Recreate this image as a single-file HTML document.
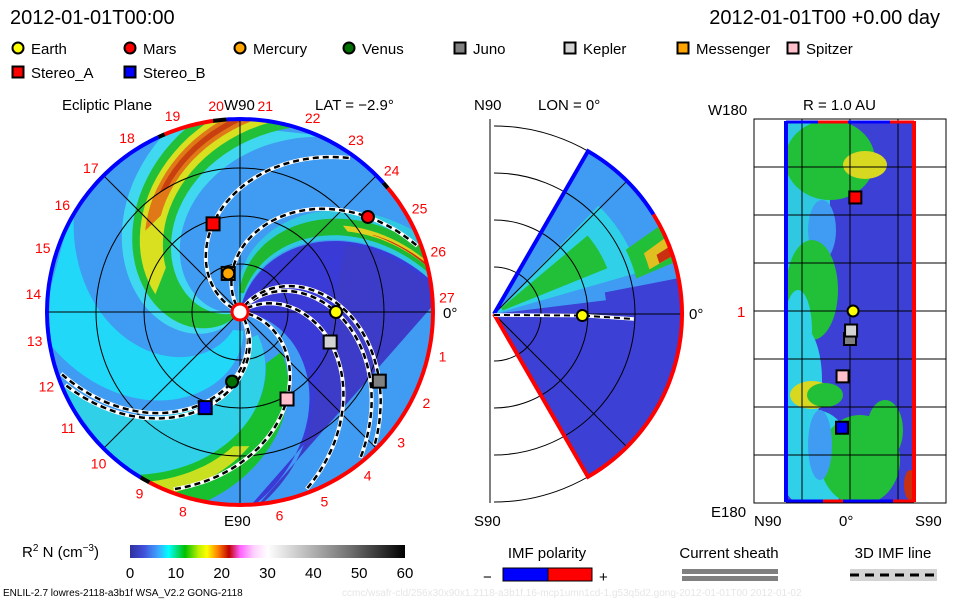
<!DOCTYPE html>
<html><head><meta charset="utf-8">
<style>
html,body{margin:0;padding:0;background:#fff;}
svg{display:block;font-family:"Liberation Sans",sans-serif;}
</style></head>
<body>
<svg id="root" width="960" height="600" viewBox="0 0 960 600" xmlns="http://www.w3.org/2000/svg">
<defs>
<clipPath id="diskClip"><circle cx="240" cy="312" r="193"/></clipPath>
<clipPath id="wedgeClip"><path d="M494,314 L588,151 A188,188 0 0 1 588,477 Z"/></clipPath>
<clipPath id="rectClip"><rect x="786" y="122" width="129" height="379"/></clipPath>
<linearGradient id="cbar" x1="0" x2="1" y1="0" y2="0">
<stop offset="0" stop-color="#3030a0"/><stop offset="0.05" stop-color="#4050d8"/><stop offset="0.1" stop-color="#40a0ff"/>
<stop offset="0.14" stop-color="#00ffff"/><stop offset="0.2" stop-color="#00c000"/><stop offset="0.25" stop-color="#c0f000"/>
<stop offset="0.28" stop-color="#ffff00"/><stop offset="0.32" stop-color="#ff8000"/><stop offset="0.36" stop-color="#c00000"/>
<stop offset="0.4" stop-color="#ff60ff"/><stop offset="0.45" stop-color="#ffd0ff"/><stop offset="0.5" stop-color="#ffffff"/>
<stop offset="0.6" stop-color="#d0d0d0"/><stop offset="0.8" stop-color="#707070"/><stop offset="1" stop-color="#000000"/>
</linearGradient>
</defs>

<text x="10" y="24" font-size="20" fill="#000">2012-01-01T00:00</text>
<text x="940" y="24" font-size="20" text-anchor="end" fill="#000">2012-01-01T00 +0.00 day</text>

<g id="legend" font-size="15"></g>

<g>
<text x="62" y="110" font-size="15">Ecliptic Plane</text>
<text x="315" y="110" font-size="15">LAT = −2.9°</text>
<text x="224" y="526" font-size="15">E90</text>
<text x="443" y="318" font-size="15">0°</text>
<g id="disk" clip-path="url(#diskClip)"></g>
<g id="diskOver"></g>
<g id="rimNums" font-size="14" fill="#ff0000" text-anchor="middle"></g>
<text x="224" y="110" font-size="15">W90</text>
</g>

<g>
<text x="474" y="110" font-size="15">N90</text>
<text x="538" y="110" font-size="15">LON = 0°</text>
<text x="689" y="319" font-size="15">0°</text>
<text x="474" y="526" font-size="15">S90</text>
<g id="wedge"></g>
</g>

<g>
<text x="803" y="110" font-size="15">R = 1.0 AU</text>
<text x="708" y="115" font-size="15">W180</text>
<text x="737" y="317" font-size="15" fill="#ff0000">1</text>
<text x="711" y="517" font-size="15">E180</text>
<text x="754" y="526" font-size="15">N90</text>
<text x="839" y="526" font-size="15">0°</text>
<text x="915" y="526" font-size="15">S90</text>
<g id="rect"></g>
</g>

<g>
<text x="22" y="557" font-size="15">R<tspan font-size="10" dy="-6">2</tspan><tspan dy="6"> N (cm</tspan><tspan font-size="10" dy="-6">−3</tspan><tspan dy="6">)</tspan></text>
<rect x="130" y="545" width="275" height="13" fill="url(#cbar)"/>
<g id="cbticks" font-size="15" text-anchor="middle"></g>
</g>

<g>
<text x="547" y="558" font-size="15" text-anchor="middle">IMF polarity</text>
<text x="483" y="582" font-size="15">−</text>
<rect x="503" y="568" width="45" height="13" fill="#0000ff" stroke="#000" stroke-width="1"/>
<rect x="548" y="568" width="44" height="13" fill="#ff0000" stroke="#000" stroke-width="1"/>
<text x="599" y="582" font-size="15">+</text>
</g>
<g>
<text x="729" y="558" font-size="15" text-anchor="middle">Current sheath</text>
<rect x="682" y="569" width="96" height="5" fill="#808080"/>
<rect x="682" y="576" width="96" height="5" fill="#808080"/>
</g>
<g>
<text x="893" y="558" font-size="15" text-anchor="middle">3D IMF line</text>
<rect x="850" y="569" width="87" height="12" fill="#d3d3d3"/>
<line x1="850" y1="575" x2="937" y2="575" stroke="#000" stroke-width="3" stroke-dasharray="9 6"/>
</g>
<text x="3" y="596" font-size="10">ENLIL-2.7 lowres-2118-a3b1f WSA_V2.2 GONG-2118</text>
<text x="342" y="596" font-size="10" fill="#e6e6e6">ccmc/wsafr-cld/256x30x90x1.2118-a3b1f.16-mcp1umn1cd-1.g53q5d2.gong-2012-01-01T00   2012-01-02</text>
</svg>

<script>
// ---------- data ----------
const bodyNames   = ["Earth","Mars","Mercury","Venus","Juno","Kepler","Messenger","Spitzer","Stereo_A","Stereo_B"];
const bodyColors  = ["#ffff00","#ff0000","#ffa500","#007000","#808080","#d3d3d3","#ffa500","#ffc0cb","#ff0000","#0000ff"];
const bodyShapes  = ["circle","circle","circle","circle","square","square","square","square","square","square"];
const bodyRadiusAU = [1.0, 1.66, 0.42, 0.73, 1.62, 0.99, 0.42, 1.03, 0.96, 1.06];
const bodyLonDeg   = [0, 36.6, 107, -96.5, -26.4, -18.4, 107, -61.6, 107, -110];
// latitude on the 1 AU map, degrees south positive (null = not shown)
const bodyMapLatS = [2.9, null, null, null, 0, 1, null, -7, 5, -7.5];
const spiralBodies = ["Earth","Mars","Venus","Juno","Kepler","Spitzer","Stereo_A","Stereo_B"];
const rimNumbers = ["19","20","21","22","23","24","25","26","27","1","2","3","4","5","6","8","9","10","11","12","13","14","15","16","17","18"];
const rimAngles  = [109,96.6,83,69.5,56,43,30,17,4,-12.4,-26,-39,-52,-66,-79,-106,-119,-133,-146,-159,-172,175,162,149,136,123];
const cbTicks = [0,10,20,30,40,50,60];

// ---------- helpers ----------
const NS="http://www.w3.org/2000/svg";
function mk(tag, attrs, parent){const e=document.createElementNS(NS,tag);for(const k in attrs)e.setAttribute(k,attrs[k]);parent.appendChild(e);return e;}
const CX=240, CY=312, S=96, K=52;
function pt(r,deg){const a=deg*Math.PI/180;return [CX+S*r*Math.cos(a), CY-S*r*Math.sin(a)];}
function band(fa, fb, r0, r1){
  let p=[];for(let r=r0;r<=r1+1e-6;r+=0.05)p.push(pt(r,fa(r)));
  for(let r=r1;r>=r0-1e-6;r-=0.05)p.push(pt(r,fb(r)));
  return p.map(q=>q[0].toFixed(1)+","+q[1].toFixed(1)).join(" ");
}

// ---------- legend ----------
const legend=document.getElementById("legend");
const legX=[18,130,240,349,460,570,683,793,18,130];
const legY=[48,48,48,48,48,48,48,48,72,72];
bodyNames.forEach((n,i)=>{
  let m;
  if(bodyShapes[i]==="circle") m=mk("circle",{cx:legX[i],cy:legY[i],r:5.5,fill:bodyColors[i],stroke:"#000","stroke-width":2},legend);
  else m=mk("rect",{x:legX[i]-5.5,y:legY[i]-5.5,width:11,height:11,fill:bodyColors[i],stroke:"#000","stroke-width":2},legend);
  
  
  const t=mk("text",{x:legX[i]+13,y:legY[i]+6},legend);t.textContent=n;
  
  
});

// ---------- left disk ----------
const disk=document.getElementById("disk");
mk("rect",{x:40,y:110,width:400,height:410,fill:"#3f9cf2"},disk);
const fields=[
 [r=>-70-50*r, r=>-100-55*r, 0.2, 2.1, "#22d8f8"],
 [r=>-40-40*r, r=>-62-48*r, 0.3, 2.1, "#30d0e8"],
 [r=>-20-40*r, r=>-38-42*r, 0.6, 2.1, "#18c030"],
 [r=>-30-40*r, r=>-34-42*r, 1.4, 2.1, "#c8e020"],
 [r=>80-35*r, r=>-5-40*r, 0.05, 2.1, "#3a3ad6"],
 [r=>78-35*r, r=>-3-40*r, 1.3, 2.1, "#3c3cc8"],
 [r=>238-62*r, r=>190-62*r, 0.05, 2.1, "#40d8f0"],
 [r=>230-62*r, r=>198-62*r, 0.1, 2.1, "#22c038"],
 [r=>224-62*r, r=>205-62*r, 0.9, 2.1, "#d8e020"],
 [r=>220-62*r, r=>210-62*r, 1.3, 2.1, "#e07818"],
 [r=>217-62*r, r=>213-62*r, 1.5, 2.1, "#c84010"],
 [r=>105-40*r, r=>82-36*r, 0.1, 2.1, "#30c8e0"],
 [r=>100-40*r, r=>86-37*r, 0.2, 2.1, "#20b830"],
 [r=>96-40*r, r=>90-38*r, 1.4, 2.1, "#e0d020"],
 [r=>94-40*r, r=>91-38*r, 1.6, 2.1, "#c83010"]
];
fields.forEach((f,i)=>{
  const p=mk("polygon",{points:band(f[0],f[1],f[2],f[3]),fill:f[4]},disk);
  
  
});
const over=document.getElementById("diskOver");
[0.5,1,1.5,2].forEach(r=>{const c=mk("circle",{cx:CX,cy:CY,r:S*r,fill:"none",stroke:"#000","stroke-width":1},over);
  });
[0,45,90,135].forEach(a=>{const p1=pt(2.01,a),p2=pt(2.01,a+180);
  const l=mk("line",{x1:p1[0],y1:p1[1],x2:p2[0],y2:p2[1],stroke:"#000","stroke-width":1},over);
  });
spiralBodies.forEach(n=>{
  const i=bodyNames.indexOf(n);const rb=bodyRadiusAU[i], fb=bodyLonDeg[i];
  let d="";for(let r=0.08;r<=2.0;r+=0.03){const q=pt(r,fb+K*(rb-r));d+=(d?"L":"M")+q[0].toFixed(1)+","+q[1].toFixed(1);}
  mk("path",{d:d,fill:"none",stroke:"#fff","stroke-width":4},over);
  const s=mk("path",{d:d,fill:"none",stroke:"#000","stroke-width":2.5,"stroke-dasharray":"6 4"},over);
  
  
});
// rim polarity (clockwise from a0 down to a1)
function rimArc(a0,a1,col){let d="";for(let a=a0;a>=a1;a-=1){const q=pt(2.01,a);d+=(d?"L":"M")+q[0].toFixed(1)+","+q[1].toFixed(1);}
  const e=mk("path",{d:d,fill:"none",stroke:col,"stroke-width":4},over);
  }
rimArc(94,42,"#0000ff");rimArc(40,-118,"#ff0000");rimArc(-121,-245,"#0000ff");rimArc(113,98,"#ff0000");
rimArc(42,40,"#000");rimArc(-118,-121,"#000");rimArc(115,113,"#000");rimArc(98,94,"#000");
mk("circle",{cx:CX,cy:CY,r:8,fill:"#fff",stroke:"#ff0000","stroke-width":3},over);
const order=[6,0,1,2,3,4,5,7,8,9];
order.forEach(i=>{
  const q=pt(bodyRadiusAU[i],bodyLonDeg[i]);let m;
  if(bodyShapes[i]==="circle") m=mk("circle",{cx:q[0],cy:q[1],r:6,fill:bodyColors[i],stroke:"#000","stroke-width":2},over);
  else m=mk("rect",{x:q[0]-6.5,y:q[1]-6.5,width:13,height:13,fill:bodyColors[i],stroke:"#000","stroke-width":2},over);
  
  
});
const rn=document.getElementById("rimNums");
rimNumbers.forEach((s,i)=>{const q=pt(2.16,rimAngles[i]);const t=mk("text",{x:q[0],y:q[1]+5},rn);t.textContent=s;
  });

// ---------- middle wedge ----------
const W=document.getElementById("wedge");const WX=494,WY=314,WR=188;
function wp(r,deg){const a=deg*Math.PI/180;return [WX+WR*r*Math.cos(a),WY-WR*r*Math.sin(a)];}
[0.25,0.5,0.75,1].forEach(r=>{const e=mk("path",{d:`M${WX},${WY-WR*r} A${WR*r},${WR*r} 0 0 1 ${WX},${WY+WR*r}`,fill:"none",stroke:"#000","stroke-width":1},W);
  });
mk("line",{x1:490,y1:119,x2:490,y2:503,stroke:"#000","stroke-width":1},W);
const wg=mk("g",{"clip-path":"url(#wedgeClip)"},W);
mk("rect",{x:480,y:110,width:220,height:400,fill:"#3c40d4"},wg);
function wpoly(a0,a1,r0,r1,col){let p=[];for(let a=a0;a<=a1;a+=3)p.push(wp(r0,a));for(let a=a1;a>=a0;a-=3)p.push(wp(r1,a));
  const e=mk("polygon",{points:p.map(q=>q.join(",")).join(" "),fill:col},wg);}
wpoly(10,62,0,1.05,"#3f9cf2");
wpoly(5,22,0,0.6,"#3f9cf2");
wpoly(14,46,0,0.8,"#30d0e8");
wpoly(22,40,0.05,0.65,"#22c038");
wpoly(14,28,0.78,1.0,"#22c038");
wpoly(16,24,0.86,1.0,"#e0c020");
wpoly(17,21,0.92,1.0,"#c83010");
[45,-45].forEach(a=>{const q=wp(1,a);mk("line",{x1:WX,y1:WY,x2:q[0],y2:q[1],stroke:"#000","stroke-width":1},wg);});
[0.25,0.5,0.75].forEach(r=>mk("circle",{cx:WX,cy:WY,r:WR*r,fill:"none",stroke:"#000","stroke-width":1},wg));
mk("line",{x1:WX,y1:WY,x2:WX+WR,y2:WY,stroke:"#000","stroke-width":1},W);
mk("path",{d:`M${WX},${WY} L${wp(1,60).join(",")} A${WR},${WR} 0 0 1 ${wp(1,32).join(",")}`,fill:"none",stroke:"#0000ff","stroke-width":4},W);
mk("path",{d:`M${wp(1,32).join(",")} A${WR},${WR} 0 0 1 ${wp(1,-60).join(",")} L${WX},${WY}`,fill:"none",stroke:"#ff0000","stroke-width":4},W);
const eq=wp(bodyRadiusAU[0]*0.47,-1);
mk("path",{d:`M${WX},${WY+1} L${eq[0]},${eq[1]} L${WX+140},${WY+5}`,fill:"none",stroke:"#fff","stroke-width":3.5},W);
mk("path",{d:`M${WX},${WY+1} L${eq[0]},${eq[1]} L${WX+140},${WY+5}`,fill:"none",stroke:"#000","stroke-width":2,"stroke-dasharray":"6 4"},W);
const ec=mk("circle",{cx:eq[0],cy:eq[1],r:5.5,fill:"#ffff00",stroke:"#000","stroke-width":2},W);



// ---------- right sphere map ----------
const R=document.getElementById("rect");
mk("rect",{x:754,y:119,width:192,height:384,fill:"none",stroke:"#000","stroke-width":1},R);
const rg=mk("g",{"clip-path":"url(#rectClip)"},R);
mk("rect",{x:780,y:115,width:140,height:395,fill:"#3c40d4"},rg);
const blobs=[[800,200,30,90,"#30c8e0"],[830,160,45,40,"#22c038"],[865,165,22,14,"#d8d820"],[822,230,14,30,"#3f9cf2"],
 [812,290,26,50,"#22c038"],[798,330,14,40,"#30d0e8"],[800,380,22,55,"#30d0e8"],[812,395,22,14,"#d8d820"],[825,395,18,12,"#22c038"],
 [815,460,38,50,"#30d0e8"],[860,460,40,45,"#22c038"],[820,445,12,35,"#3f9cf2"],[885,430,18,30,"#22c038"],[910,485,6,15,"#c83010"]];
blobs.forEach(b=>{const e=mk("ellipse",{cx:b[0],cy:b[1],rx:b[2],ry:b[3],fill:b[4]},rg);
  });
[802,850,898].forEach(x=>mk("line",{x1:x,y1:119,x2:x,y2:503,stroke:"#000","stroke-width":1},R));
[167,215,263,311,359,407,455].forEach(y=>mk("line",{x1:754,y1:y,x2:946,y2:y,stroke:"#000","stroke-width":1},R));
mk("line",{x1:786,y1:121,x2:786,y2:502,stroke:"#0000ff","stroke-width":4},R);
mk("line",{x1:914,y1:121,x2:914,y2:502,stroke:"#ff0000","stroke-width":4},R);
mk("line",{x1:786,y1:122,x2:914,y2:122,stroke:"#0000ff","stroke-width":3},R);
mk("line",{x1:818,y1:122,x2:848,y2:122,stroke:"#ff0000","stroke-width":3},R);
mk("line",{x1:890,y1:122,x2:914,y2:122,stroke:"#ff0000","stroke-width":3},R);
mk("line",{x1:786,y1:501,x2:914,y2:501,stroke:"#0000ff","stroke-width":3},R);
mk("line",{x1:823,y1:501,x2:843,y2:501,stroke:"#ff0000","stroke-width":3},R);
mk("line",{x1:893,y1:501,x2:914,y2:501,stroke:"#ff0000","stroke-width":3},R);
bodyNames.forEach((n,i)=>{
  if(bodyMapLatS[i]===null)return;
  const x=850+bodyMapLatS[i]*(64/60), y=311-bodyLonDeg[i]*(191/180);
  let m;
  if(bodyShapes[i]==="circle") m=mk("circle",{cx:x,cy:y,r:5.5,fill:bodyColors[i],stroke:"#000","stroke-width":2},R);
  else m=mk("rect",{x:x-6,y:y-6,width:12,height:12,fill:bodyColors[i],stroke:"#000","stroke-width":2},R);
  
  
});

// ---------- colorbar ticks ----------
const cbt=document.getElementById("cbticks");
cbTicks.forEach(v=>{const x=130+v/60*275;const t=mk("text",{x:x,y:578},cbt);t.textContent=v;
  });
</script>
</body></html>
